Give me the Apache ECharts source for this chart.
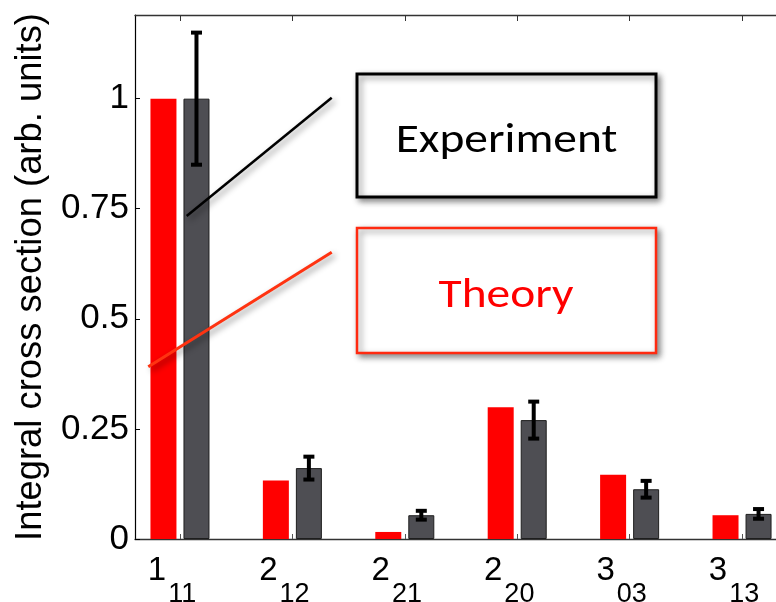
<!DOCTYPE html>
<html>
<head>
<meta charset="utf-8">
<script src="https://cdn.jsdelivr.net/npm/echarts@6/dist/echarts.min.js"></script>
<style>
  html, body { margin: 0; padding: 0; background: #ffffff; }
  #chart { width: 776px; height: 602px; }
</style>
</head>
<body>
<div id="chart"></div>
<script>
// Rotational levels J_{KaKc}, one per integer position on the x axis
const positions = [1, 2, 3, 4, 5, 6];
const levelJ = ['1', '2', '2', '2', '3', '3'];
const levelKaKc = ['11', '12', '21', '20', '03', '13'];

// Integral cross sections, normalised to the 1_11 level
const theory = [1.0, 0.133, 0.016, 0.299, 0.146, 0.054];
const experiment = [1.0, 0.161, 0.054, 0.270, 0.113, 0.057];
const experimentError = [0.15, 0.026, 0.010, 0.042, 0.019, 0.011];

// Y axis ticks and their labels
const yTicks = [0, 0.25, 0.5, 0.75, 1];
const yLabels = ['0', '0.25', '0.5', '0.75', '1'];

const BAR_WIDTH = 26;
const BAR_GAP = 0.27;                                   // fraction of a bar width
const EXP_OFFSET = BAR_WIDTH * (1 + BAR_GAP) / 2;       // centre of the second bar in a pair
const AXIS_FONT = '"Liberation Sans", Arial, Helvetica, sans-serif';
const NOTE_FONT = 'Carlito, Lato, "Open Sans", sans-serif';

const chart = echarts.init(document.getElementById('chart'), null, { renderer: 'canvas' });

const shadow = {
  shadowBlur: 6,
  shadowColor: 'rgba(0,0,0,0.45)',
  shadowOffsetX: 3,
  shadowOffsetY: 3
};

chart.setOption({
  animation: false,
  backgroundColor: '#ffffff',
  grid: { left: 135, top: 15, right: -11, bottom: 63, containLabel: false, outerBoundsMode: 'none' },
  xAxis: [
    {
      type: 'value',
      position: 'bottom',
      min: 0.6,
      max: 6.4,
      splitLine: { show: false },
      axisLine: { show: true, onZero: false, lineStyle: { color: '#333333', width: 1.3 } },
      axisTick: {
        show: true, inside: true, length: 5, customValues: positions,
        lineStyle: { color: '#555555', width: 1 }
      },
      axisLabel: {
        show: true,
        customValues: positions,
        margin: 15,
        padding: [0, 16, 0, 0],
        formatter: function (v) {
          const i = positions.indexOf(Math.round(v));
          return i < 0 ? '' : '{m|' + levelJ[i] + '}{s|' + levelKaKc[i] + '}';
        },
        rich: {
          m: { fontFamily: AXIS_FONT, fontSize: 33, color: '#000', lineHeight: 33, verticalAlign: 'top' },
          s: { fontFamily: AXIS_FONT, fontSize: 27, color: '#000', lineHeight: 27, verticalAlign: 'top', padding: [27, 0, 0, 2] }
        }
      }
    },
    {
      type: 'value',
      position: 'top',
      min: 0.6,
      max: 6.4,
      splitLine: { show: false },
      axisLine: { show: true, onZero: false, lineStyle: { color: '#333333', width: 1.3 } },
      axisTick: {
        show: true, inside: true, length: 6, customValues: positions,
        lineStyle: { color: '#333333', width: 1 }
      },
      axisLabel: { show: false }
    }
  ],
  yAxis: [
    {
      type: 'value',
      min: 0,
      max: 1.19,
      splitLine: { show: false },
      axisLine: { show: true, onZero: false, lineStyle: { color: '#000000', width: 1.2 } },
      axisTick: {
        show: true, inside: true, length: 5, customValues: yTicks,
        lineStyle: { color: '#000000', width: 1 }
      },
      axisLabel: {
        show: true,
        customValues: yTicks,
        margin: 6,
        fontFamily: AXIS_FONT,
        fontSize: 35,
        color: '#000000',
        formatter: function (v) {
          const i = yTicks.findIndex(function (t) { return Math.abs(t - v) < 1e-6; });
          return i < 0 ? '' : yLabels[i];
        }
      },
      name: 'Integral cross section (arb. units)',
      nameLocation: 'middle',
      nameRotate: 90,
      nameGap: 86,
      nameTruncate: { maxWidth: 2000 },
      nameTextStyle: { fontFamily: AXIS_FONT, fontSize: 36.4, color: '#000000', width: 2000, overflow: 'none' }
    }
  ],
  series: [
    {
      name: 'Theory',
      type: 'bar',
      xAxisIndex: 0,
      yAxisIndex: 0,
      barWidth: BAR_WIDTH,
      barGap: (BAR_GAP * 100) + '%',
      data: positions.map(function (x, i) { return [x, theory[i]]; }),
      itemStyle: { color: '#ff0000' },
      z: 2
    },
    {
      name: 'Experiment',
      type: 'bar',
      xAxisIndex: 0,
      yAxisIndex: 0,
      barWidth: BAR_WIDTH,
      barGap: (BAR_GAP * 100) + '%',
      data: positions.map(function (x, i) { return [x, experiment[i]]; }),
      itemStyle: { color: '#4e4e53', borderColor: '#1e1e1e', borderWidth: 1 },
      z: 2
    },
    {
      name: 'Experiment error',
      type: 'custom',
      xAxisIndex: 0,
      yAxisIndex: 0,
      data: positions.map(function (x, i) { return [x, experiment[i], experimentError[i]]; }),
      renderItem: function (params, api) {
        const x = api.value(0), y = api.value(1), e = api.value(2);
        const lo = api.coord([x, y - e]);
        const hi = api.coord([x, y + e]);
        const cx = lo[0] + EXP_OFFSET;
        const half = 5.5;
        const st = { stroke: '#000000', lineWidth: 4 };
        return {
          type: 'group',
          children: [
            { type: 'line', shape: { x1: cx, y1: lo[1], x2: cx, y2: hi[1] }, style: st },
            { type: 'line', shape: { x1: cx - half, y1: hi[1], x2: cx + half, y2: hi[1] }, style: st },
            { type: 'line', shape: { x1: cx - half, y1: lo[1], x2: cx + half, y2: lo[1] }, style: st }
          ]
        };
      },
      z: 5
    }
  ],
  graphic: [
    {
      type: 'line',
      z: 20,
      shape: { x1: 186.7, y1: 216, x2: 331.7, y2: 97.7 },
      style: Object.assign({ stroke: '#000000', lineWidth: 2.5 }, shadow)
    },
    {
      type: 'line',
      z: 20,
      shape: { x1: 148.3, y1: 366.7, x2: 331.7, y2: 252.3 },
      style: Object.assign({ stroke: '#ff3311', lineWidth: 3 }, shadow)
    },
    {
      type: 'rect',
      z: 20,
      shape: { x: 357, y: 74, width: 299, height: 123 },
      style: Object.assign({ fill: '#ffffff', stroke: '#000000', lineWidth: 3 }, shadow)
    },
    {
      type: 'text',
      z: 21,
      x: 506.5,
      y: 141,
      scaleX: 1.13,
      style: {
        text: 'Experiment', fill: '#000000',
        font: '42px ' + NOTE_FONT,
        align: 'center', verticalAlign: 'middle'
      }
    },
    {
      type: 'rect',
      z: 20,
      shape: { x: 357, y: 228, width: 299, height: 125 },
      style: Object.assign({ fill: '#ffffff', stroke: '#ff2a10', lineWidth: 2.5 }, shadow)
    },
    {
      type: 'text',
      z: 21,
      x: 506,
      y: 296,
      scaleX: 1.13,
      style: {
        text: 'Theory', fill: '#ff0000',
        font: '42px ' + NOTE_FONT,
        align: 'center', verticalAlign: 'middle'
      }
    }
  ]
});
</script>
</body>
</html>
